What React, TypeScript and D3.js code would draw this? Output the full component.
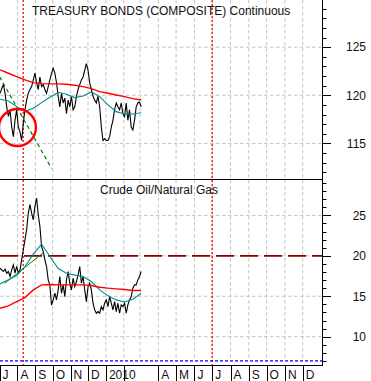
import React from 'react'
import * as d3 from 'd3'

const width = 371
const height = 381

// daily-ish closes, sampled evenly from seriesStart to seriesEnd
const bondCloses = [
  120.2, 120.7, 121.1, 120.2, 118.8, 117.8, 118.5, 116.7, 115.7, 117.4,
  118.5, 116.7, 116.2, 115.3, 117.1, 118.5, 119.5, 120.2, 120.6, 120.9,
  121.6, 122.3, 121.3, 120.6, 121.9, 120.9, 121.1, 120.6, 120.2, 120.9,
  121.6, 122.3, 122.8, 122.3, 121.3, 119.9, 118.8, 120.2, 119.2, 119.7,
  118.1, 119.5, 118.8, 119.9, 118.5, 118.8, 119.9, 120.6, 121.1, 121.6,
  121.9, 122.6, 123.3, 122.6, 121.3, 120.6, 119.9, 119.5, 119.2, 119.9,
  118.8, 116.7, 115.3, 115.5, 115.3, 115.3, 115.7, 116.7, 117.4, 118.5,
  119.2, 118.8, 118.5, 119.2, 118.1, 117.8, 119.2, 117.4, 118.5, 116.7,
  116.4, 117.4, 118.8, 119.2, 119.3, 118.8,
]
const bondShortAvg = [
  119.58, 119.41, 118.82, 118.3, 118.65, 119.24, 119.79, 120.31, 120.1,
  119.76, 119.93, 120.35, 119.86, 119.0, 118.3, 118.06, 118.06, 118.19,
]
const bondLongAvg = [
  122.64, 122.29, 121.94, 121.6, 121.32, 121.21, 121.18, 121.18, 121.15,
  121.04, 120.9, 120.69, 120.38, 120.21, 120.03, 119.86, 119.65, 119.51,
]

const ratioCloses = [
  18.47, 18.27, 18.06, 18.35, 17.85, 18.06, 17.44, 18.27, 18.89, 17.85,
  18.68, 17.85, 18.27, 19.51, 20.75, 21.98, 23.22, 25.29, 26.32, 25.29,
  24.46, 26.11, 27.15, 25.08, 23.64, 21.16, 20.54, 19.51, 18.68, 17.03,
  16.41, 13.9, 14.55, 15.38, 14.55, 15.79, 17.44, 15.38, 16.41, 14.96,
  17.03, 18.06, 16.62, 15.79, 17.23, 16.2, 16.82, 17.65, 18.68, 16.62,
  17.44, 15.79, 14.34, 16.2, 16.62, 15.79, 14.14, 13.31, 12.9, 13.1,
  12.9, 13.72, 13.31, 14.14, 14.55, 13.72, 14.96, 14.14, 13.31, 14.34,
  13.1, 14.14, 12.9, 13.93, 13.72, 14.14, 12.9, 13.93, 14.55, 14.96,
  16.0, 16.41, 16.41, 17.03, 17.44, 18.06,
]
const ratioShortAvg = [
  16.53, 17.03, 17.56, 18.68, 20.21, 21.45, 19.92, 18.43, 17.85,
  17.61, 17.44, 16.82, 15.79, 15.05, 14.55, 14.3, 14.63, 15.38,
]
const ratioLongAvg = [
  13.52, 13.81, 14.34, 14.84, 15.79, 16.41, 16.45, 16.41, 16.41,
  16.41, 16.41, 16.33, 16.12, 16.0, 15.91, 15.83, 15.71, 15.71,
]

const seriesStart = new Date(2009, 6, 2)
const seriesEnd = new Date(2010, 2, 3)

const monthLabels = ['J', 'A', 'S', 'O', 'N', 'D', '2010', '', '', 'A', 'M', 'J', 'J', 'A', 'S', 'O', 'N', 'D']
const bondTicks = [115, 120, 125]
const ratioTicks = [10, 15, 20, 25]
const markerDates = [new Date(2009, 7, 11), new Date(2010, 6, 1)]
const ratioLevel = 20
const ratioFloor = 7
const bondTrend = [
  { date: new Date(2009, 6, 1), value: 121.94 },
  { date: new Date(2009, 8, 29), value: 112.4 },
]
const ratioTrend = [
  { date: new Date(2009, 6, 10), value: 16.6 },
  { date: new Date(2009, 8, 15), value: 20.4 },
]
const bondCircle = { date: new Date(2009, 7, 1), value: 116.65 }

const plotRight = 322
const panelSplit = 179
const plotBottom = 365
const font = { fontFamily: '"Liberation Sans", Arial, sans-serif', fontSize: '12px' }

const x = d3
  .scaleTime()
  .domain([new Date(2009, 6, 1), new Date(2010, 2, 1), new Date(2011, 0, 1)])
  .range([-0.5, 140, 321])

const yBond = d3.scaleLinear().domain([111.3, 129.9]).range([panelSplit, 0])
const yRatio = d3.scaleLinear().domain([6.5, 29.5]).range([plotBottom, panelSplit])

function withDates(values: number[]) {
  const t = d3.scaleLinear().domain([0, values.length - 1]).range([+seriesStart, +seriesEnd])
  return values.map((v, i) => ({ date: new Date(t(i)), value: v }))
}

type Pt = { date: Date; value: number }

const lineFor = (y: d3.ScaleLinear<number, number>) =>
  d3
    .line<Pt>()
    .x((d) => x(d.date))
    .y((d) => y(d.value))

export default function App() {
  const months = d3.timeMonth.range(new Date(2009, 6, 1), new Date(2011, 0, 1))
  const bondLine = lineFor(yBond)
  const ratioLine = lineFor(yRatio)

  return (
    <div style={{ position: 'absolute', left: 0, top: 0 }}>
      <svg width={width} height={height} style={{ display: 'block', background: '#fff' }}>
        {/* grid */}
        {months.slice(1).map((m) => (
          <line
            key={'vg' + m.getTime()}
            x1={x(m)}
            x2={x(m)}
            y1={0}
            y2={360}
            stroke="#c4c4c4"
            strokeDasharray="3.5,2.5"
          />
        ))}
        {bondTicks.map((t) => (
          <line key={'hb' + t} x1={0} x2={plotRight} y1={yBond(t)} y2={yBond(t)} stroke="#c4c4c4" strokeDasharray="3.5,2.5" />
        ))}
        {ratioTicks.map((t) => (
          <line key={'hr' + t} x1={0} x2={plotRight} y1={yRatio(t)} y2={yRatio(t)} stroke="#c4c4c4" strokeDasharray="3.5,2.5" />
        ))}

        {markerDates.map((d) => (
          <line
            key={'md' + d.getTime()}
            x1={x(d)}
            x2={x(d)}
            y1={0}
            y2={plotBottom}
            stroke="#ff0000"
            strokeWidth={1.3}
            strokeDasharray="2,2"
          />
        ))}

        <line
          x1={0}
          x2={plotRight}
          y1={yRatio(ratioLevel)}
          y2={yRatio(ratioLevel)}
          stroke="#8b0000"
          strokeWidth={1.8}
          strokeDasharray="18,6"
        />
        <line
          x1={0}
          x2={plotRight}
          y1={yRatio(ratioFloor)}
          y2={yRatio(ratioFloor)}
          stroke="#0000ff"
          strokeWidth={1.3}
          strokeDasharray="3,2"
        />

        {/* treasury bonds */}
        <path d={bondLine(withDates(bondCloses)) || ''} fill="none" stroke="#000" strokeWidth={1.1} />
        <path d={bondLine(withDates(bondShortAvg)) || ''} fill="none" stroke="#008b8b" strokeWidth={1.1} />
        <path d={bondLine(withDates(bondLongAvg)) || ''} fill="none" stroke="#ff0000" strokeWidth={1.4} />
        <path d={bondLine(bondTrend) || ''} fill="none" stroke="#008000" strokeWidth={1.2} strokeDasharray="4,3" />
        <circle cx={x(bondCircle.date)} cy={yBond(bondCircle.value)} r={18.5} fill="none" stroke="#ff0000" strokeWidth={2.4} />

        {/* crude oil / natural gas */}
        <path d={ratioLine(withDates(ratioCloses)) || ''} fill="none" stroke="#000" strokeWidth={1.1} />
        <path d={ratioLine(ratioTrend) || ''} fill="none" stroke="#008000" strokeWidth={1} />
        <path d={ratioLine(withDates(ratioShortAvg)) || ''} fill="none" stroke="#008b8b" strokeWidth={1.1} />
        <path d={ratioLine(withDates(ratioLongAvg)) || ''} fill="none" stroke="#ff0000" strokeWidth={1.4} />

        {/* frame */}
        <line x1={0} x2={plotRight} y1={panelSplit + 0.5} y2={panelSplit + 0.5} stroke="#000" />
        <line x1={0} x2={plotRight} y1={plotBottom + 0.5} y2={plotBottom + 0.5} stroke="#000" />
        <line x1={plotRight + 0.5} x2={plotRight + 0.5} y1={0} y2={plotBottom + 1} stroke="#000" />

        {/* right axes */}
        {d3.range(112, 130).map((v) => (
          <line
            key={'tb' + v}
            x1={plotRight}
            x2={plotRight + (bondTicks.includes(v) ? 9 : 4.5)}
            y1={Math.round(yBond(v)) + 0.5}
            y2={Math.round(yBond(v)) + 0.5}
            stroke="#000"
          />
        ))}
        {d3.range(7, 30).map((v) => (
          <line
            key={'tr' + v}
            x1={plotRight}
            x2={plotRight + (ratioTicks.includes(v) ? 9 : 4.5)}
            y1={Math.round(yRatio(v)) + 0.5}
            y2={Math.round(yRatio(v)) + 0.5}
            stroke="#000"
          />
        ))}
        {bondTicks.map((t) => (
          <text key={'lb' + t} x={366} y={yBond(t)} dy="0.36em" textAnchor="end" style={font} fill="#111">
            {t}
          </text>
        ))}
        {ratioTicks.map((t) => (
          <text key={'lr' + t} x={366} y={yRatio(t)} dy="0.36em" textAnchor="end" style={font} fill="#111">
            {t}
          </text>
        ))}

        {/* bottom axis */}
        {months.map((m, i) =>
          monthLabels[i] === '' && i === 8 ? null : (
            <line
              key={'mt' + m.getTime()}
              x1={Math.round(x(m)) + 0.5}
              x2={Math.round(x(m)) + 0.5}
              y1={plotBottom}
              y2={height}
              stroke="#000"
            />
          )
        )}
        {months.map((m, i) => (
          <text key={'ml' + m.getTime()} x={x(m) + 3} y={379} style={font} fill="#111">
            {monthLabels[i]}
          </text>
        ))}

        {/* titles */}
        <text x={32} y={15} style={font} fill="#111">
          TREASURY BONDS (COMPOSITE) Continuous
        </text>
        <text x={100} y={194} style={font} fill="#111">
          Crude Oil/Natural Gas
        </text>
      </svg>
    </div>
  )
}
